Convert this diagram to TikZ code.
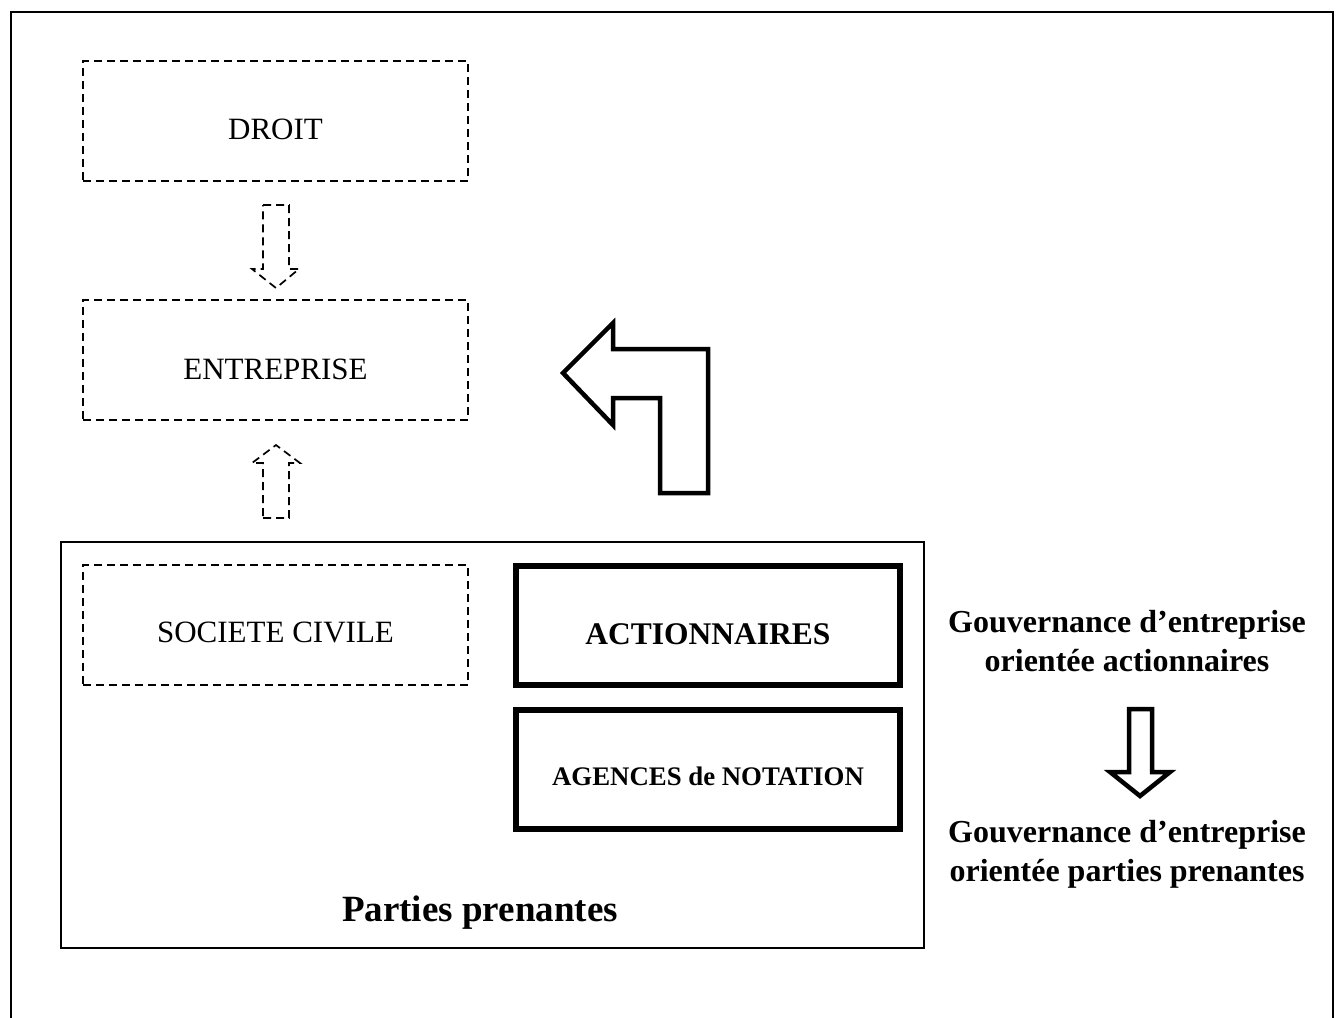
\documentclass[tikz,border=0pt]{standalone}
\usepackage{fontspec}
\setmainfont{Liberation Serif}
\begin{document}
\begin{tikzpicture}[x=1pt,y=-1pt,
  frame/.style={line width=2pt},
  dbox/.style={draw,dash pattern=on 8pt off 5pt,line width=1.7pt,minimum width=385pt,minimum height=120pt,inner sep=0pt},
  tbox/.style={draw,line width=5.5pt,minimum width=384pt,minimum height=119pt,inner sep=0pt},
  darrow/.style={dash pattern=on 8pt off 5pt,line width=1.7pt},
  harrow/.style={line width=4.5pt,line join=miter},
  plain/.style={font=\fontsize{31}{38}\selectfont},
  boldtxt/.style={font=\fontsize{32}{39}\selectfont\bfseries},
]
\useasboundingbox (0,0) rectangle (1340,1017);
\fill[white] (0,0) rectangle (1340,1017);

% outer frame, open at the bottom
\draw[frame] (11,1020) -- (11,12) -- (1333,12) -- (1333,1020);

% dashed boxes on the left
\node[dbox] (droit) at (275.5,121) {};
\node[plain] at ([yshift=-8pt]droit.center) {DROIT};
\node[dbox] (entreprise) at (275.5,360) {};
\node[plain] at ([yshift=-9pt]entreprise.center) {ENTREPRISE};

% dashed block arrows
\draw[darrow] (263,205) -- (289,205) -- (289,269) -- (299,269) -- (276,288) -- (252,269) -- (263,269) -- cycle;
\draw[darrow] (263,518) -- (289,518) -- (289,463) -- (300,463) -- (276,445) -- (252,463) -- (263,463) -- cycle;

% bent arrow pointing back to the company
\draw[harrow] (563,373) -- (613,323) -- (613,349) -- (708,349) -- (708,493) -- (660,493) -- (660,398) -- (613,398) -- (613,425) -- cycle;

% stakeholders frame
\node[draw,line width=1.5pt,minimum width=863pt,minimum height=406pt,inner sep=0pt] (parties) at (492.5,745) {};
\node[font=\fontsize{37}{44}\selectfont\bfseries,anchor=base] at (480,921) {Parties prenantes};

\node[dbox] (civile) at (275.5,625) {};
\node[plain] at ([yshift=-7pt]civile.center) {SOCIETE CIVILE};

\node[tbox] (action) at (708,625.5) {};
\node[font=\fontsize{31.5}{38}\selectfont\bfseries] at ([yshift=-9pt]action.center) {ACTIONNAIRES};
\node[tbox] (agences) at (708,769.5) {};
\node[font=\fontsize{26.8}{32}\selectfont\bfseries] at ([yshift=-7pt]agences.center) {AGENCES de NOTATION};

% governance shift on the right
\node[boldtxt,anchor=base] (gov1) at (1127,632) {Gouvernance d’entreprise};
\node[boldtxt,anchor=base] (gov2) at (1127,671) {orientée actionnaires};
\draw[harrow] (1129,709) -- (1152,709) -- (1152,772) -- (1170,772) -- (1140,796) -- (1110,772) -- (1129,772) -- cycle;
\node[boldtxt,anchor=base] (gov3) at (1127,842) {Gouvernance d’entreprise};
\node[boldtxt,anchor=base] (gov4) at (1127,881) {orientée parties prenantes};
\end{tikzpicture}
\end{document}
